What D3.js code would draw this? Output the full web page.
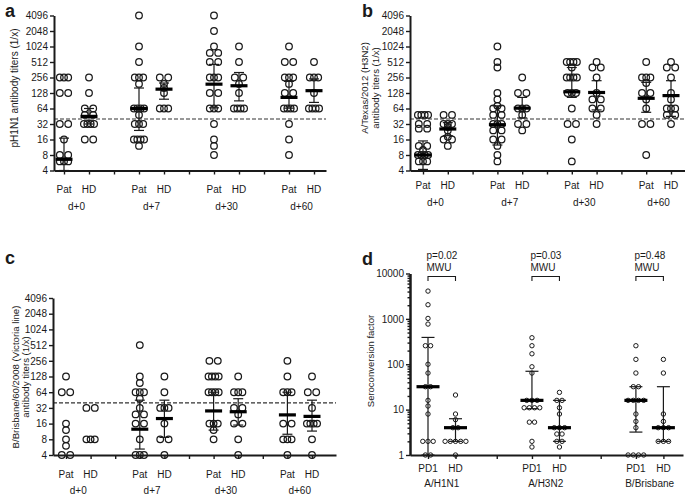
<!DOCTYPE html>
<html><head><meta charset="utf-8">
<script src="https://cdn.jsdelivr.net/npm/d3@7"></script>
<style>
body{margin:0;background:#fff}
svg{display:block}
text{font-family:"Liberation Sans",Arial,Helvetica,sans-serif;fill:#1a1a1a}
</style>
</head><body><svg id="chart" width="685" height="495"></svg>
<script>
// ---------- shared categories / ticks ----------
const days = ["d+0","d+7","d+30","d+60"];
const cohorts = ["Pat","HD"];
const titerTicks = [4,8,16,32,64,128,256,512,1024,2048,4096];
const threshold = 40;

// group order: Pat d+0, HD d+0, Pat d+7, HD d+7, Pat d+30, HD d+30, Pat d+60, HD d+60
// ---------- panel a : pH1N1 ----------
const h1n1Values = [
  [256,256,256,128,128,32,32,16,8,8,6,6,6],
  [256,128,64,64,48,48,32,32,32,32,16,16],
  [4096,1024,512,256,256,256,192,64,64,64,64,48,32,32,32,16,16,16,16,12],
  [256,256,192,160,128,64,64,64],
  [4096,2048,1024,768,768,512,512,256,256,256,128,128,64,64,64,32,16,12,8],
  [1024,512,256,256,192,128,64,64,64,64],
  [1024,512,512,256,256,256,192,128,128,64,64,64,64,32,16,8],
  [512,256,256,256,128,64,64,64,64]
];
const h1n1Median = [6.6,45,64,152,190,177,105,142];
const h1n1Low    = [4,32,24,97,66,90,65,84];
const h1n1High   = [17,64,160,200,460,320,215,240];

// ---------- panel b : A/Texas/2012 (H3N2) ----------
const h3n2Values = [
  [48,48,48,48,32,32,26,26,12,12,10,8,8,8,8,6,6,6],
  [48,48,32,32,32,28,24,18,16,16,12],
  [1024,512,400,128,96,72,64,64,48,48,32,32,32,24,24,16,16,12,8,6],
  [256,128,128,64,64,64,48,32,32,24],
  [512,512,512,512,400,256,256,256,256,128,128,128,64,32,32,16,6],
  [512,400,400,256,128,96,96,64,64,48,32],
  [512,256,256,256,200,128,128,96,64,32,32,8],
  [512,400,400,256,128,96,64,64,64,48,48,32]
];
const h3n2Median = [8,25.6,31,65,135,131,101,114];
const h3n2Low    = [4.2,19,12.5,42,105,60,54,45];
const h3n2High   = [15,34,72,105,400,222,206,222];

// ---------- panel c : B/Brisbane/60/2008 ----------
const bVicValues = [
  [128,64,64,16,12,8,6,4,4],
  [32,32,8,8,8],
  [512,128,96,64,64,64,48,32,24,24,16,16,8,4,4,4],
  [128,64,32,32,32,16,8,8,4],
  [256,256,128,128,128,128,64,64,64,64,16,16,16,12,8],
  [128,64,64,64,32,32,24,16,16,8,4],
  [256,128,64,64,64,16,16,8,8,8,4],
  [128,64,64,32,16,16,16,16,8,4]
];
const bVicMedian = [null,null,12.5,20,28,27,23.5,22];
const bVicLow    = [null,null,5.2,8.7,12,15,10,11.5];
const bVicHigh   = [null,null,45,45,64,48,64,45];

// ---------- panel d : seroconversion factor ----------
const strains = ["A/H1N1","A/H3N2","B/Brisbane"];
const scfCohorts = ["PD1","HD"];
const scfTicks = [1,10,100,1000,10000];
const pValues = ["p=0.02","p=0.03","p=0.48"];
const scfValues = [
  [4096,2048,1024,768,256,256,100,64,32,32,16,12,8,2,2,2,1,1],
  [21,8,6,4,4,2,2,2,2,2,1],
  [384,256,170,88,64,16,16,16,11,11,11,11,5.3,5.3,2,1.5],
  [24,16,16,11,8,4,4,4,2.9,2.9,2,2,1.5],
  [256,128,64,32,32,16,16,16,16,8,5.5,4,1,1,1,1],
  [128,64,8,5.5,4,4,4,2,2,2]
];
const scfMedian = [32,4,16,4,16,4];
const scfLow    = [1,2,10.5,2,3.2,2];
const scfHigh   = [390,6.3,70,16,32,32];

// ---------- drawing ----------
const svg = d3.select("#chart");
svg.append("rect").attr("width",685).attr("height",495).attr("fill","#fff");
const INK = "#1a1a1a";

function spreadOffsets(n, small){
  if (small) return d3.range(n).map(j => (j-(n-1)/2)*5.2);
  if (n===1) return [0];
  let W = n===2 ? 8.4 : (n===3 ? 8.4 : Math.min(8.4+(n-3)*1.8, 13));
  return d3.range(n).map(j => -W/2 + j*W/(n-1));
}

function drawPoints(g, vals, cx, y, r, small){
  const groups = d3.groups(vals, v => v);
  groups.forEach(([v, arr]) => {
    const offs = spreadOffsets(arr.length, small);
    offs.forEach(o => {
      g.append("circle").attr("cx", cx + o).attr("cy", y(v)).attr("r", r)
        .attr("fill","none").attr("stroke",INK).attr("stroke-width", small?1:1.25);
    });
  });
}

function drawSummary(g, cx, y, med, lo, hi, barHalf, capHalf){
  if (med==null) return;
  g.append("line").attr("x1",cx).attr("x2",cx).attr("y1",y(lo)).attr("y2",y(hi))
    .attr("stroke",INK).attr("stroke-width",1.2);
  [lo,hi].forEach(v => g.append("line").attr("x1",cx-capHalf).attr("x2",cx+capHalf)
    .attr("y1",y(v)).attr("y2",y(v)).attr("stroke",INK).attr("stroke-width",1.2));
  g.append("line").attr("x1",cx-barHalf).attr("x2",cx+barHalf).attr("y1",y(med)).attr("y2",y(med))
    .attr("stroke","#000").attr("stroke-width",3.2);
}

function styleAxis(sel){
  sel.select(".domain").attr("stroke",INK).attr("stroke-width",2);
  sel.selectAll(".tick line").attr("stroke",INK).attr("stroke-width",1.4);
  sel.selectAll(".tick text").attr("font-size","10px").attr("fill",INK)
     .style("font-family",'"Liberation Sans",Arial,sans-serif');
}

function titerPanel(cfg, values, med, lo, hi){
  const g = svg.append("g");
  const y = d3.scaleLog().base(2).domain([4,4096]).range([cfg.yBot, cfg.yTop]);
  const iLo = -(cfg.x0-cfg.axisX)/cfg.step, iHi = (cfg.endX-cfg.x0)/cfg.step;
  const x = d3.scaleLinear().domain([iLo,iHi]).range([cfg.axisX,cfg.endX]);

  // threshold line
  g.append("line").attr("x1",cfg.axisX).attr("x2",cfg.endX).attr("y1",y(threshold)).attr("y2",y(threshold))
    .attr("stroke","#333").attr("stroke-width",1.2).attr("stroke-dasharray","4,2");

  values.forEach((vals,k) => {
    const i = Math.floor(k/2)*3 + k%2;
    drawPoints(g, vals, x(i), y, 3.3, false);
  });
  values.forEach((vals,k) => {
    const i = Math.floor(k/2)*3 + k%2;
    drawSummary(g, x(i), y, med[k], lo[k], hi[k], 8.5, 5);
  });

  const ya = g.append("g").attr("transform",`translate(${cfg.axisX},0)`)
    .call(d3.axisLeft(y).tickValues(titerTicks).tickFormat(d3.format("d")).tickSize(4).tickSizeOuter(0).tickPadding(2));
  styleAxis(ya);
  const xa = g.append("g").attr("transform",`translate(0,${cfg.yBot})`)
    .call(d3.axisBottom(x).tickValues(d3.range(11)).tickFormat("").tickSize(4).tickSizeOuter(0));
  styleAxis(xa);

  days.forEach((d,gi) => {
    cohorts.forEach((c,ci) => {
      g.append("text").attr("x",x(gi*3+ci)).attr("y",cfg.catY).attr("text-anchor","middle")
        .attr("font-size","10px").text(c);
    });
    g.append("text").attr("x",x(gi*3+0.5)).attr("y",cfg.dayY).attr("text-anchor","middle")
      .attr("font-size","10px").text(d);
  });

  cfg.title.forEach((t,li) => {
    g.append("text").attr("transform",`translate(${cfg.titleX[li]},${cfg.titleY}) rotate(-90)`)
      .attr("text-anchor","middle").attr("font-size",cfg.titleSize).text(t);
  });
  g.append("text").attr("x",cfg.letterX).attr("y",cfg.letterY).attr("font-size","18px")
    .attr("font-weight","bold").text(cfg.letter);
}

titerPanel({x0:64, step:25, axisX:54, endX:326, yTop:15.5, yBot:170.5, catY:192.5, dayY:209.5,
  title:["pH1N1 antibody titers (1/x)"], titleX:[17.5], titleY:88, titleSize:"10px", letter:"a", letterX:5, letterY:16.5},
  h1n1Values, h1n1Median, h1n1Low, h1n1High);

titerPanel({x0:423, step:24.8, axisX:410, endX:686, yTop:15.5, yBot:170.5, catY:188.5, dayY:205.5,
  title:["A/Texas/2012 (H3N2)","antibody titers (1/x)"], titleX:[367.5,378.5], titleY:88, titleSize:"9.6px", letter:"b", letterX:362, letterY:16.5},
  h3n2Values, h3n2Median, h3n2Low, h3n2High);

titerPanel({x0:66, step:24.6, axisX:53, endX:336, yTop:298, yBot:455, catY:477.5, dayY:494,
  title:["B/Brisbane/60/2008 (Victoria line)","antibody titers (1/x)"], titleX:[18.5,28.5], titleY:377, titleSize:"9.6px", letter:"c", letterX:5, letterY:264},
  bVicValues, bVicMedian, bVicLow, bVicHigh);

// ---------- panel d ----------
(function(){
  const g = svg.append("g");
  const axisX = 410, endX = 683, yTop = 273.5, yBot = 455;
  const y = d3.scaleLog().domain([1,10000]).range([yBot,yTop]);
  const x = d3.scaleLinear().domain([0,1]).range([428,455.5]);
  const pos = (gi,ci) => gi*3.78 + ci;

  scfValues.forEach((vals,k) => {
    const gi = Math.floor(k/2), ci = k%2;
    drawPoints(g, vals, x(pos(gi,ci)), y, 2.2, true);
  });
  scfValues.forEach((vals,k) => {
    const gi = Math.floor(k/2), ci = k%2;
    drawSummary(g, x(pos(gi,ci)), y, scfMedian[k], scfLow[k], scfHigh[k], 11.5, 6.5);
  });

  const minor = [];
  for (let e=0;e<4;e++) for (let m=2;m<=9;m++) minor.push(m*Math.pow(10,e));
  const ym = g.append("g").attr("transform",`translate(${axisX},0)`)
    .call(d3.axisLeft(y).tickValues(minor).tickFormat("").tickSize(2.5).tickSizeOuter(0));
  styleAxis(ym);
  const ya = g.append("g").attr("transform",`translate(${axisX},0)`)
    .call(d3.axisLeft(y).tickValues(scfTicks).tickFormat(d3.format("d")).tickSize(4).tickSizeOuter(0).tickPadding(2));
  styleAxis(ya);

  const xs = d3.scaleLinear().domain([x.invert(axisX), x.invert(endX)]).range([axisX,endX]);
  const xt = [];
  strains.forEach((s,gi) => { xt.push(pos(gi,0)); xt.push(pos(gi,1)); if (gi<2) xt.push(pos(gi,0)+2.5); });
  const xa = g.append("g").attr("transform",`translate(0,${yBot})`)
    .call(d3.axisBottom(xs).tickValues(xt).tickFormat("").tickSize(4).tickSizeOuter(0));
  styleAxis(xa);

  strains.forEach((s,gi) => {
    scfCohorts.forEach((c,ci) => {
      g.append("text").attr("x",x(pos(gi,ci))).attr("y",471.5).attr("text-anchor","middle")
        .attr("font-size","10px").text(c);
    });
    g.append("text").attr("x",x(pos(gi,0.5))).attr("y",486.5).attr("text-anchor","middle")
      .attr("font-size","10px").text(s);
    const xl = x(pos(gi,0)), xr = x(pos(gi,1));
    g.append("path").attr("d",`M${xl},281V276.5H${xr}V281`).attr("fill","none")
      .attr("stroke",INK).attr("stroke-width",1.1);
    g.append("text").attr("x",xl-1.5).attr("y",259).attr("font-size","10px").text(pValues[gi]);
    g.append("text").attr("x",xl-1.5).attr("y",271).attr("font-size","10px").text("MWU");
  });

  g.append("text").attr("transform",`translate(373.5,361) rotate(-90)`).attr("text-anchor","middle")
    .attr("font-size","9.5px").text("Seroconversion factor");
  g.append("text").attr("x",362).attr("y",265).attr("font-size","18px").attr("font-weight","bold").text("d");
})();
</script>
</body></html>
